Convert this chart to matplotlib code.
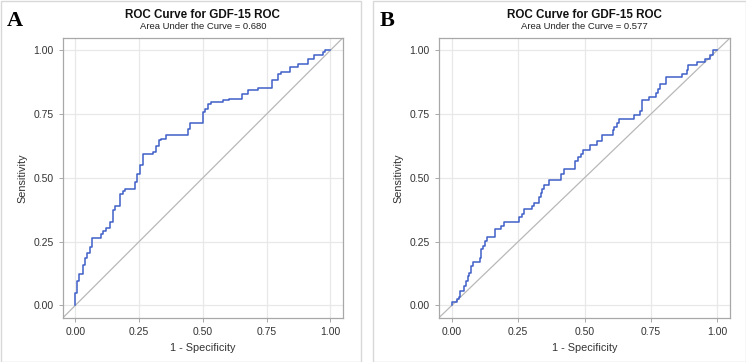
import matplotlib
matplotlib.use("Agg")
import matplotlib.pyplot as plt
from matplotlib.patches import Rectangle

plt.rcParams["font.family"] = ["Liberation Sans", "DejaVu Sans"]

# Panel A ROC points (1 - specificity, sensitivity), step-post
fpr_a = [0, 0, 0.008, 0.013, 0.029, 0.038, 0.047, 0.056, 0.066, 0.101, 0.108, 0.121,
         0.136, 0.147, 0.156, 0.173, 0.186, 0.193, 0.235, 0.243, 0.253, 0.265, 0.304,
         0.315, 0.328, 0.337, 0.357, 0.442, 0.449, 0.501, 0.508, 0.521, 0.531, 0.580,
         0.604, 0.652, 0.678, 0.718, 0.770, 0.793, 0.806, 0.843, 0.875, 0.911, 0.937,
         0.971, 0.980, 1.0]
tpr_a = [0, 0.05, 0.096, 0.124, 0.159, 0.187, 0.207, 0.23, 0.262, 0.28, 0.292, 0.303,
         0.325, 0.374, 0.391, 0.437, 0.45, 0.457, 0.483, 0.516, 0.552, 0.592, 0.60,
         0.625, 0.647, 0.654, 0.667, 0.69, 0.715, 0.758, 0.772, 0.789, 0.798, 0.804,
         0.811, 0.831, 0.844, 0.854, 0.883, 0.909, 0.915, 0.935, 0.946, 0.968, 0.981,
         0.994, 1.0, 1.0]

# Panel B ROC points
fpr_b = [0, 0, 0.019, 0.025, 0.031, 0.044, 0.053, 0.061, 0.066, 0.073, 0.078, 0.105,
         0.110, 0.116, 0.124, 0.133, 0.162, 0.186, 0.198, 0.253, 0.263, 0.272, 0.301,
         0.310, 0.329, 0.335, 0.341, 0.348, 0.367, 0.411, 0.424, 0.464, 0.475, 0.485,
         0.493, 0.521, 0.546, 0.566, 0.607, 0.613, 0.622, 0.632, 0.685, 0.711, 0.718,
         0.744, 0.769, 0.778, 0.786, 0.807, 0.866, 0.888, 0.891, 0.923, 0.955, 0.973,
         0.984, 1.0]
tpr_b = [0, 0.013, 0.024, 0.033, 0.056, 0.076, 0.096, 0.115, 0.128, 0.155, 0.168, 0.187,
         0.22, 0.233, 0.253, 0.266, 0.299, 0.312, 0.325, 0.345, 0.358, 0.378, 0.391,
         0.402, 0.424, 0.441, 0.457, 0.47, 0.492, 0.515, 0.535, 0.567, 0.58, 0.595,
         0.61, 0.627, 0.644, 0.67, 0.686, 0.699, 0.715, 0.73, 0.745, 0.761, 0.804,
         0.817, 0.833, 0.85, 0.87, 0.896, 0.909, 0.925, 0.942, 0.955, 0.968, 0.981,
         1.0, 1.0]

panel_letters = ["A", "B"]
titles = ["ROC Curve for GDF-15 ROC", "ROC Curve for GDF-15 ROC"]
subtitles = ["Area Under the Curve = 0.680", "Area Under the Curve = 0.577"]
ticks = [0, 0.25, 0.5, 0.75, 1.0]
tick_labels = ["0.00", "0.25", "0.50", "0.75", "1.00"]
xlabel = "1 - Specificity"
ylabel = "Sensitivity"

W, H = 746, 362
fig = plt.figure(figsize=(W / 100, H / 100), dpi=100)
fig.patch.set_facecolor("white")

# panel frames
fig.add_artist(Rectangle((0.5 / W, 0.5 / H), 360.5 / W, 361 / H, transform=fig.transFigure,
                         fill=False, edgecolor="#d8d8d8", linewidth=1.0))
fig.add_artist(Rectangle((373 / W, 0.5 / H), 372.5 / W, 361 / H, transform=fig.transFigure,
                         fill=False, edgecolor="#d8d8d8", linewidth=1.0))

axes_px = [(62.7, 343.0), (438.7, 730.3)]
top_px, bot_px = 37.7, 318.0
letter_x = [7, 380]

data = [(fpr_a, tpr_a), (fpr_b, tpr_b)]
for i, (l, r) in enumerate(axes_px):
    ax = fig.add_axes([l / W, 1 - bot_px / H, (r - l) / W, (bot_px - top_px) / H])
    ax.set_xlim(-0.05, 1.05)
    ax.set_ylim(-0.05, 1.05)
    ax.set_xticks(ticks)
    ax.set_xticklabels(tick_labels)
    ax.set_yticks(ticks)
    ax.set_yticklabels(tick_labels)
    ax.grid(True, color="#e8e8e8", linewidth=0.9)
    ax.set_axisbelow(True)
    for s in ax.spines.values():
        s.set_color("#a8a8a8")
        s.set_linewidth(0.9)
    ax.tick_params(length=3, width=0.7, color="#a8a8a8", labelsize=7.5,
                   labelcolor="#333333", pad=3.5)
    ax.plot([-0.05, 1.05], [-0.05, 1.05], color="#b8b8b8", linewidth=0.9)
    fx, ty = data[i]
    ax.step(fx, ty, where="post", color="#3f5fc8", linewidth=1.1)
    ax.set_xlabel(xlabel, fontsize=7.8, color="#333333", labelpad=4)
    ax.set_ylabel(ylabel, fontsize=7.8, color="#333333", labelpad=4)

    cx = (l + r) / 2 / W
    fig.text(cx, 1 - 15.5 / H, titles[i], ha="center", va="center", fontsize=8.4,
             fontweight="bold", color="#111111")
    fig.text(cx, 1 - 26.7 / H, subtitles[i], ha="center", va="center", fontsize=6.8,
             color="#222222")
    fig.text(letter_x[i] / W, 1 - 20.5 / H, panel_letters[i], ha="left", va="center",
             fontsize=16, fontweight="bold", family="Liberation Serif", color="black")

fig.savefig("out.png", dpi=100, facecolor="white")
